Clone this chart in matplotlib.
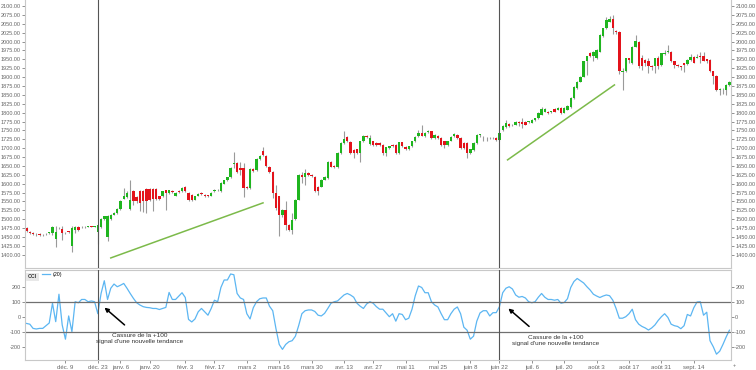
import numpy as np
import matplotlib
matplotlib.use('Agg')
from matplotlib import pyplot as plt

plt.rcParams['font.family'] = ['Liberation Sans', 'DejaVu Sans']

# daily OHLC (déc. 2019 -> sept. 2020)
opens = [1475, 1465, 1461, 1459, 1458, 1456, 1459, 1460, 1462, 1445, 1476, 1472, 1462, 1466, 1424, 1469, 1478, 1477, 1478, 1479,
         1480, 1479, 1463, 1478, 1500, 1450, 1500, 1513, 1518, 1529, 1558, 1562, 1529, 1580, 1562, 1580, 1580, 1585, 1585, 1585,
         1585, 1564, 1565, 1581, 1574, 1580, 1566, 1580, 1578, 1592, 1575, 1569, 1555, 1566, 1574, 1569, 1567, 1566, 1578, 1581,
         1578, 1600, 1609, 1618, 1656, 1658, 1644, 1644, 1592, 1588, 1641, 1639, 1669, 1691, 1678, 1648, 1634, 1575, 1564, 1513,
         1527, 1485, 1471, 1501, 1555, 1625, 1619, 1630, 1625, 1620, 1592, 1592, 1611, 1616, 1662, 1650, 1647, 1686, 1714, 1731,
         1717, 1695, 1697, 1686, 1719, 1735, 1712, 1719, 1714, 1714, 1709, 1686, 1700, 1709, 1709, 1686, 1716, 1703, 1697, 1705,
         1719, 1733, 1742, 1733, 1746, 1747, 1728, 1735, 1728, 1719, 1709, 1721, 1733, 1737, 1728, 1714, 1714, 1686, 1695, 1714,
         1737, 1732, 1729, 1728, 1729, 1728, 1723, 1750, 1759, 1769, 1765, 1766, 1775, 1775, 1775, 1774, 1772, 1778, 1784, 1794,
         1803, 1803, 1802, 1810, 1808, 1813, 1800, 1808, 1815, 1841, 1869, 1887, 1901, 1944, 1969, 1960, 1953, 1972, 2016, 2037,
         2056, 2063, 2031, 2028, 1914, 1916, 1953, 1939, 1986, 2000, 1953, 1948, 1944, 1930, 1930, 1953, 1934, 1964, 1971, 1972,
         1944, 1934, 1930, 1939, 1937, 1948, 1956, 1955, 1958, 1958, 1950, 1948, 1916, 1903, 1864, 1866, 1864, 1878]
closes = [1466, 1461, 1457, 1457, 1456, 1455, 1457, 1463, 1478, 1465, 1475, 1461, 1461, 1465, 1475, 1478, 1469, 1478, 1477, 1480,
          1479, 1480, 1484, 1500, 1508, 1510, 1512, 1518, 1529, 1552, 1564, 1575, 1555, 1550, 1550, 1547, 1550, 1550, 1555, 1557,
          1558, 1558, 1578, 1574, 1581, 1576, 1575, 1576, 1588, 1578, 1553, 1555, 1564, 1572, 1570, 1564, 1566, 1575, 1583, 1582,
          1602, 1609, 1618, 1644, 1658, 1634, 1639, 1588, 1588, 1641, 1637, 1669, 1678, 1681, 1650, 1634, 1575, 1531, 1513, 1527,
          1485, 1471, 1498, 1555, 1625, 1619, 1630, 1625, 1622, 1578, 1578, 1611, 1620, 1662, 1648, 1647, 1686, 1714, 1725, 1719,
          1686, 1686, 1686, 1719, 1735, 1731, 1728, 1709, 1709, 1709, 1686, 1702, 1705, 1705, 1686, 1716, 1705, 1697, 1705, 1719,
          1731, 1742, 1735, 1744, 1747, 1728, 1737, 1728, 1709, 1709, 1719, 1731, 1740, 1728, 1700, 1700, 1686, 1697, 1714, 1737,
          1738, 1731, 1728, 1729, 1728, 1723, 1744, 1762, 1772, 1763, 1766, 1775, 1772, 1769, 1766, 1775, 1780, 1784, 1799, 1810,
          1810, 1799, 1803, 1803, 1813, 1799, 1813, 1819, 1841, 1872, 1887, 1901, 1944, 1958, 1958, 1972, 1976, 2019, 2037, 2061,
          2063, 2037, 2028, 1916, 1916, 1953, 1948, 1986, 2003, 1930, 1930, 1939, 1930, 1929, 1953, 1930, 1967, 1969, 1972, 1944,
          1934, 1930, 1929, 1934, 1948, 1956, 1941, 1956, 1956, 1946, 1946, 1916, 1903, 1864, 1865, 1867, 1878, 1887]
highs = [1477, 1467, 1463, 1461, 1460, 1458, 1461, 1465, 1480, 1480, 1478, 1480, 1464, 1468, 1480, 1482, 1480, 1480, 1480, 1481,
         1482, 1482, 1486, 1502, 1510, 1512, 1514, 1520, 1531, 1554, 1588, 1578, 1611, 1582, 1566, 1582, 1583, 1587, 1587, 1587,
         1587, 1566, 1580, 1583, 1583, 1582, 1577, 1582, 1590, 1594, 1577, 1571, 1566, 1574, 1576, 1571, 1569, 1577, 1585, 1584,
         1604, 1611, 1620, 1646, 1689, 1660, 1661, 1658, 1594, 1643, 1643, 1672, 1680, 1703, 1680, 1650, 1636, 1597, 1566, 1529,
         1550, 1487, 1517, 1557, 1627, 1634, 1641, 1632, 1627, 1622, 1594, 1613, 1622, 1665, 1664, 1652, 1688, 1716, 1747, 1733,
         1719, 1697, 1699, 1721, 1737, 1737, 1736, 1721, 1716, 1716, 1711, 1704, 1707, 1711, 1711, 1718, 1718, 1705, 1707, 1721,
         1733, 1751, 1766, 1746, 1752, 1749, 1739, 1737, 1730, 1721, 1721, 1733, 1742, 1739, 1730, 1716, 1716, 1699, 1716, 1739,
         1740, 1734, 1731, 1731, 1731, 1730, 1746, 1764, 1780, 1771, 1768, 1777, 1777, 1784, 1777, 1777, 1782, 1786, 1801, 1817,
         1812, 1805, 1805, 1812, 1815, 1815, 1815, 1821, 1843, 1874, 1889, 1903, 1946, 1960, 1971, 1974, 1978, 2021, 2039, 2068,
         2072, 2075, 2033, 2030, 1925, 1955, 1955, 1988, 2019, 2002, 1961, 1950, 1955, 1935, 1955, 1958, 1969, 1975, 1990, 1974,
         1946, 1936, 1932, 1941, 1950, 1965, 1958, 1966, 1970, 1970, 1952, 1950, 1918, 1905, 1868, 1870, 1880, 1889]
lows = [1464, 1459, 1455, 1452, 1454, 1453, 1455, 1458, 1455, 1421, 1472, 1442, 1458, 1462, 1407, 1462, 1466, 1475, 1476, 1477,
        1478, 1478, 1431, 1475, 1497, 1438, 1498, 1511, 1516, 1527, 1557, 1560, 1527, 1541, 1546, 1522, 1519, 1517, 1552, 1522,
        1555, 1555, 1563, 1527, 1572, 1574, 1564, 1574, 1576, 1576, 1551, 1552, 1553, 1564, 1567, 1562, 1563, 1564, 1576, 1579,
        1576, 1598, 1607, 1616, 1644, 1631, 1625, 1562, 1586, 1586, 1634, 1637, 1667, 1679, 1647, 1631, 1560, 1527, 1452, 1505,
        1471, 1468, 1457, 1499, 1553, 1602, 1597, 1623, 1620, 1576, 1569, 1590, 1609, 1614, 1646, 1645, 1645, 1684, 1712, 1717,
        1684, 1672, 1684, 1662, 1717, 1729, 1710, 1707, 1707, 1707, 1682, 1677, 1698, 1702, 1684, 1684, 1703, 1695, 1695, 1703,
        1717, 1731, 1733, 1731, 1744, 1726, 1726, 1726, 1707, 1700, 1707, 1719, 1731, 1726, 1698, 1698, 1672, 1684, 1693, 1712,
        1730, 1720, 1720, 1726, 1726, 1721, 1721, 1748, 1757, 1760, 1763, 1764, 1761, 1756, 1764, 1772, 1770, 1776, 1782, 1792,
        1801, 1797, 1800, 1801, 1806, 1797, 1798, 1806, 1813, 1839, 1867, 1885, 1899, 1906, 1956, 1945, 1950, 1970, 2014, 2035,
        2054, 2020, 2022, 1910, 1864, 1914, 1940, 1937, 1984, 1926, 1920, 1930, 1912, 1920, 1912, 1922, 1932, 1962, 1968, 1942,
        1925, 1928, 1920, 1915, 1935, 1946, 1939, 1953, 1940, 1944, 1940, 1914, 1880, 1860, 1850, 1852, 1850, 1876]

# CCI (20) values, one per candle
cci = [-45, -50, -78, -82, -78, -78, -60, -42, 90, -33, 150, -55, -150, 5, -100, 100, 93, 115, 115, 100,
       105, 100, 20, 155, 240, 115, 190, 218, 200, 210, 222, 190, 155, 122, 93, 78, 67, 62, 60, 55,
       55, 48, 55, 62, 162, 115, 115, 138, 160, 128, -18, -35, -15, 33, 55, 33, 10, 55, 110, 100,
       195, 245, 245, 285, 280, 155, 125, 115, 20, -15, 60, 100, 120, 125, 125, 70, 40, -80, -185, -218,
       -185, -167, -160, -130, -60, 20, 40, 45, 45, 35, 10, 5, 22, 55, 90, 100, 105, 125, 145, 155,
       145, 130, 90, 70, 55, 85, 100, 90, 67, 50, 50, 25, 0, 20, -30, 20, 15, -20, -10, 50,
       140, 205, 195, 160, 160, 100, 78, 65, 20, -20, -20, 20, 50, 65, 20, -70, -90, -150, -130, -30,
       25, 40, 40, 5, 27, 27, 67, 160, 190, 200, 185, 145, 130, 135, 125, 100, 93, 100, 130, 155,
       130, 115, 115, 110, 115, 90, 95, 120, 195, 235, 255, 240, 225, 200, 178, 150, 138, 128, 138, 145,
       140, 110, 55, -10, -10, 0, 20, 50, -20, -50, -65, -75, -89, -75, -55, -25, 0, 20, -5, -50,
       -60, -65, -80, -60, 15, 5, 60, 98, 100, 10, 30, -160, -200, -250, -230, -185, -135, -90]

tick_pos = [12, 22, 29, 38, 49, 58, 68, 78, 88, 98, 107, 117, 127, 137, 146, 156, 166, 176, 186, 196, 206]
tick_labels = ['déc. 9', 'déc. 23', 'janv. 6', 'janv. 20', 'févr. 3', 'févr. 17', 'mars 2', 'mars 16', 'mars 30',
               'avr. 13', 'avr. 27', 'mai 11', 'mai 25', 'juin 8', 'juin 22', 'juil. 6', 'juil. 20', 'août 3',
               'août 17', 'août 31', 'sept. 14']
price_ticks = list(range(1400, 2101, 25))
cci_ticks = [-200, -100, 0, 100, 200]
signal_days = [22, 146]

o = np.array(opens); c = np.array(closes); h = np.array(highs); l = np.array(lows)
x = np.arange(len(o))
up = c >= o
GREEN = '#1fb51f'
RED = '#e3131b'
GRAY = '#666666'

fig = plt.figure(figsize=(7.56, 3.70), dpi=100)
ax = fig.add_axes([0.033, 0.276, 0.934, 0.724])
ax2 = fig.add_axes([0.033, 0.027, 0.934, 0.243], sharex=ax)

# candles
ax.vlines(x, l, h, color='#9a9a9a', lw=0.8, zorder=1)
body = np.maximum(np.abs(c - o), 1.5)
ax.bar(x, body, bottom=np.minimum(o, c), width=0.74,
       color=np.where(up, GREEN, RED), edgecolor='none', zorder=2)

# trend lines
ax.plot([26, 73], [1391, 1546], color='#7cba4a', lw=1.1)
ax.plot([148.5, 181.5], [1667, 1878], color='#7cba4a', lw=1.1)

ax.set_ylim(1363, 2117)
ax.set_xlim(-0.5, 217.5)
ax.set_yticks(price_ticks)
ax.set_yticklabels(['%.2f' % v for v in price_ticks])
ax.tick_params(axis='y', labelsize=4, colors=GRAY, length=2, width=0.5, left=True, right=True,
               labelleft=True, labelright=True, pad=1)
ax.tick_params(axis='x', bottom=False, labelbottom=False)
for s in ['left', 'right', 'bottom']:
    ax.spines[s].set_color('#c8c8c8')
    ax.spines[s].set_linewidth(0.8)
ax.spines['top'].set_visible(False)

# CCI panel
ax2.plot(x, cci, color='#5cb6f2', lw=0.9, label='(20)')
ax2.axhline(100, color='#707070', lw=0.9)
ax2.axhline(-100, color='#707070', lw=0.9)
ax2.set_ylim(-289, 311)
ax2.set_yticks(cci_ticks)
ax2.set_yticklabels([str(v) for v in cci_ticks])
ax2.tick_params(axis='y', labelsize=4, colors=GRAY, length=2, width=0.5, left=True, right=True,
                labelleft=True, labelright=True, pad=1)
ax2.set_xticks(tick_pos)
ax2.set_xticklabels(tick_labels)
ax2.tick_params(axis='x', labelsize=4.3, colors=GRAY, length=2, width=0.5, pad=1.5)
for s in ['left', 'right', 'bottom', 'top']:
    ax2.spines[s].set_color('#c8c8c8')
    ax2.spines[s].set_linewidth(0.8)

ax2.text(0.004, 0.955, 'CCI', transform=ax2.transAxes, fontsize=3.8, fontweight='bold', color='#333333',
         va='top', ha='left', bbox=dict(boxstyle='square,pad=0.3', fc='#e8e8e8', ec='none'))
ax2.legend(loc='upper left', bbox_to_anchor=(0.018, 1.03), fontsize=3.8, frameon=False,
           handlelength=1.6, handletextpad=0.4, borderpad=0.3)

# signal lines
for d in signal_days:
    ax.axvline(d, color='#555555', lw=0.8, zorder=3)
    ax2.axvline(d, color='#555555', lw=0.8, zorder=3)

# annotations
txt = 'Cassure de la +100\nsignal d\'une nouvelle tendance'
ax2.annotate('', xy=(23.4, 73), xytext=(30.9, -67),
             arrowprops=dict(arrowstyle='-|>', color='black', lw=1.1, mutation_scale=6))
ax2.text(35, -144, txt, ha='center', va='center', fontsize=4.6, color='#333333', linespacing=1.2)
ax2.annotate('', xy=(148.1, 67), xytext=(155.8, -77),
             arrowprops=dict(arrowstyle='-|>', color='black', lw=1.1, mutation_scale=6))
ax2.text(163.4, -160, txt, ha='center', va='center', fontsize=4.6, color='#333333', linespacing=1.2)

fig.text(0.969, 0.012, '+', fontsize=4, color=GRAY, ha='left', va='center')

fig.savefig('out.png', dpi=100)
